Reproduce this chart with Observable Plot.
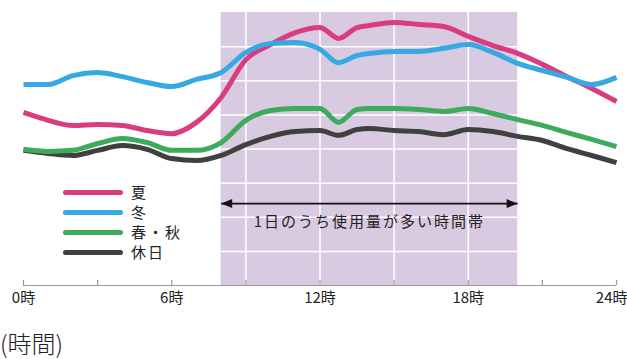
<!DOCTYPE html>
<html><head><meta charset="utf-8">
<script src="https://cdn.jsdelivr.net/npm/d3@7"></script>
<script src="https://cdn.jsdelivr.net/npm/@observablehq/plot@0.6"></script>
<style>
body{margin:0;background:#fff;font-family:"Noto Sans CJK JP","Noto Sans",sans-serif;}
#wrap{position:relative;width:627px;height:359px;overflow:hidden;}
#legend{position:absolute;left:63px;top:182px;}
.item{display:flex;align-items:center;height:20px;line-height:18px;font-size:15px;color:#222;letter-spacing:2px;}
.sw{width:60px;height:5px;border-radius:3px;margin-right:8px;}
#caption{position:absolute;left:0;top:329px;font-size:24px;color:#222;line-height:28px;font-weight:300;}
</style></head><body>
<div id="wrap"><div id="chart"></div><div id="legend"></div><div id="caption">(時間)</div></div>
<script>
// hours of day (x)
const hours   = [0,1,2,3,4,5,6,7,8,9,10,11,12,12.75,13.5,14,15,16,17,18,19,20,21,22,23,24];
// relative electricity use (arbitrary units, 0-8)
const summer  = [5.07,4.84,4.69,4.72,4.69,4.54,4.45,4.78,5.51,6.62,7.06,7.41,7.56,7.24,7.56,7.62,7.71,7.65,7.59,7.30,7.03,6.80,6.48,6.12,5.77,5.39];
const winter  = [5.89,5.89,6.15,6.24,6.12,5.95,5.83,6.04,6.24,6.83,7.09,7.12,6.92,6.53,6.74,6.80,6.86,6.86,6.95,7.06,6.83,6.51,6.30,6.10,5.89,6.10];
const springAutumn = [3.99,3.93,3.96,4.16,4.31,4.19,3.96,3.96,4.19,4.84,5.13,5.19,5.19,4.78,5.16,5.19,5.19,5.16,5.10,5.19,5.04,4.86,4.69,4.48,4.28,4.07];
const holiday = [3.96,3.87,3.81,3.96,4.10,3.99,3.72,3.66,3.81,4.13,4.37,4.51,4.54,4.40,4.57,4.60,4.54,4.51,4.42,4.57,4.51,4.37,4.25,4.01,3.81,3.60];

const seriesNames = ["夏","冬","春・秋","休日"];
const seriesColors = ["#d93d7f","#37a9e2","#40aa5c","#404040"];
const peakHours = [8,20];
const peakLabel = "1日のうち使用量が多い時間帯";
const tickHours = [0,3,6,9,12,15,18,21,24];
const labelHours = [0,6,12,18,24];
const gridHours = [9,12,15,18];
const gridLevels = [1,2,3,4,5,6,7];

const seriesValues = [summer, winter, springAutumn, holiday];
const rows = [];
seriesValues.forEach((vals, s) => vals.forEach((v, i) => rows.push({series: seriesNames[s], hour: hours[i], value: v})));
const drawOrder = ["休日","春・秋","夏","冬"];

const arrowY = 2.4, labelY = 1.85;
const leftHead = {draw(ctx){ctx.moveTo(0,0);ctx.lineTo(11,-4.5);ctx.lineTo(11,4.5);ctx.closePath();}};
const rightHead = {draw(ctx){ctx.moveTo(0,0);ctx.lineTo(-11,-4.5);ctx.lineTo(-11,4.5);ctx.closePath();}};
const fmt = d => d + "時";

const chart = Plot.plot({
  width: 627, height: 315,
  marginLeft: 23, marginRight: 11, marginTop: 12, marginBottom: 30,
  style: {fontFamily: '"Noto Sans CJK JP", sans-serif', background: "transparent", overflow: "visible"},
  x: {domain: [0,24], axis: null, label: null},
  y: {domain: [0,8], axis: null},
  color: {domain: seriesNames, range: seriesColors},
  marks: [
    Plot.rect([peakHours], {x1: d => d[0], x2: d => d[1], y1: 0, y2: 8, fill: "#d8cae0"}),
    Plot.ruleX(gridHours, {x: d => d, y1: 0, y2: 8, stroke: "#fff", strokeWidth: 1.5}),
    Plot.ruleY(gridLevels, {y: d => d, x1: peakHours[0], x2: peakHours[1], stroke: "#fff", strokeWidth: 1.5}),
    Plot.ruleY([0], {stroke: "#999", strokeWidth: 1.2}),
    Plot.ruleX(tickHours, {x: d => d, y1: 0, y2: 0, insetBottom: 5, stroke: "#999", strokeWidth: 1.2}),
    Plot.axisX(labelHours.slice(0, -1), {tickSize: 0, tickPadding: 7, fontSize: 15, fill: "#222", label: null, tickFormat: fmt}),
    Plot.axisX(labelHours.slice(-1), {tickSize: 0, tickPadding: 7, fontSize: 15, fill: "#222", label: null, tickFormat: fmt, textAnchor: "end", dx: 11}),
    ...drawOrder.map(name => Plot.line(rows.filter(r => r.series === name), {
      x: "hour", y: "value", stroke: "series", strokeWidth: 5, curve: "monotone-x", strokeLinejoin: "round", strokeLinecap: "butt"
    })),
    Plot.link([peakHours], {x1: d => d[0], x2: d => d[1], y1: arrowY, y2: arrowY, stroke: "#111", strokeWidth: 1.6}),
    Plot.dot([peakHours[0]], {x: d => d, y: arrowY, symbol: leftHead, fill: "#111", stroke: "none", r: 5}),
    Plot.dot([peakHours[1]], {x: d => d, y: arrowY, symbol: rightHead, fill: "#111", stroke: "none", r: 5}),
    Plot.text([peakLabel], {x: (peakHours[0]+peakHours[1])/2, y: labelY, text: d => d, fontSize: 15, fill: "#222"})
  ]
});
document.getElementById("chart").appendChild(chart);
d3.select(chart).selectAll('g[aria-label="text"] text').style("letter-spacing", "2px");

const legend = document.getElementById("legend");
seriesNames.forEach((n, i) => {
  const it = document.createElement("div");
  it.className = "item";
  it.innerHTML = `<span class="sw" style="background:${seriesColors[i]}"></span><span>${n}</span>`;
  legend.appendChild(it);
});
</script>
</body></html>
